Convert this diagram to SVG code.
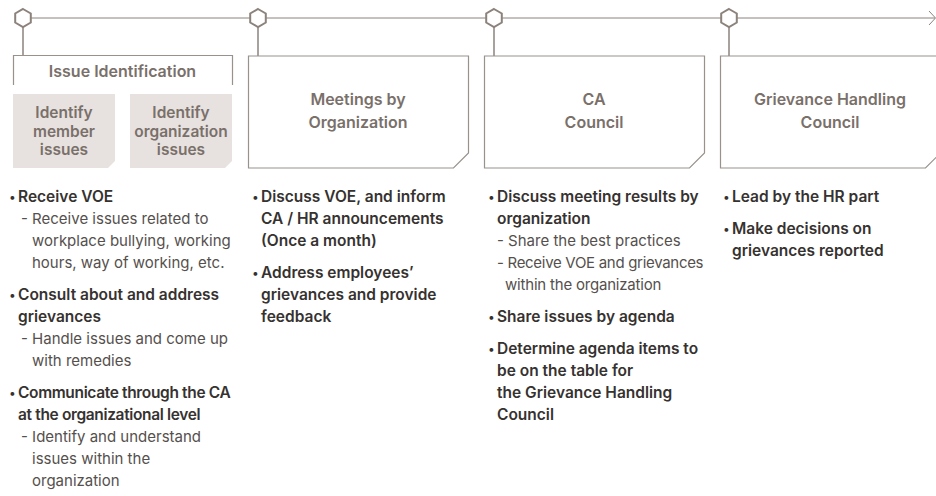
<svg xmlns="http://www.w3.org/2000/svg" width="936" height="496" viewBox="0 0 936 496">
<defs>
<style>
.ln{stroke:#8c827c;stroke-width:1;fill:none}
.stub{stroke:#8c827c;stroke-width:1.5;fill:none}
.hex{stroke:#8c827c;stroke-width:2;fill:#fff}
.box{stroke:#9a918b;stroke-width:1.2;fill:#fff}
.gbox{fill:#e7e2e0;stroke:none}
.ttl{font-family:Inter,"Noto Sans",sans-serif;font-size:16px;font-weight:600;fill:#7a706a;text-anchor:middle}
.gt{font-family:Inter,"Noto Sans",sans-serif;font-size:15.5px;font-weight:600;fill:#7a706a;text-anchor:middle}
.b{font-family:Inter,"Noto Sans",sans-serif;font-size:15.5px;font-weight:600;fill:#363230}
.s{font-family:Inter,"Noto Sans",sans-serif;font-size:15px;font-weight:400;fill:#55504d}
.dot{font-family:Inter,"Noto Sans",sans-serif;font-size:12px;font-weight:400;fill:#363230}
</style>
<polygon id="hx" points="0,-9 7.8,-4.5 7.8,4.5 0,9 -7.8,4.5 -7.8,-4.5"/>
</defs>
<rect width="936" height="496" fill="#fff"/>
<g id="connectors">
<line class="ln" x1="23" y1="18" x2="935" y2="18"/>
<polyline class="ln" points="929,11 935.5,18 929,25"/>
<line class="stub" x1="23" y1="27" x2="23" y2="55.5"/>
<line class="stub" x1="258" y1="27" x2="258" y2="56"/>
<line class="stub" x1="494" y1="27" x2="494" y2="56"/>
<line class="stub" x1="729" y1="27" x2="729" y2="56"/>
<use href="#hx" class="hex" x="23" y="18"/>
<use href="#hx" class="hex" x="258" y="18"/>
<use href="#hx" class="hex" x="494" y="18"/>
<use href="#hx" class="hex" x="729" y="18"/>
</g>
<g id="node-issue-identification">
<path class="ln" d="M13.5,85 V55.5 H232.5 V85" style="stroke:#9a918b;stroke-width:1.2"/>
<text class="ttl" x="122.5" y="77">Issue Identification</text>
</g>
<g id="node-identify-member">
<path class="gbox" d="M13,94 H115 V161 L108,168 H13 Z"/>
<text class="gt" x="64" y="118">Identify</text>
<text class="gt" x="64" y="136.5">member</text>
<text class="gt" x="64" y="155">issues</text>
</g>
<g id="node-identify-organization">
<path class="gbox" d="M130,94 H232 V161 L225,168 H130 Z"/>
<text class="gt" x="181" y="118">Identify</text>
<text class="gt" x="181" y="136.5">organization</text>
<text class="gt" x="181" y="155">issues</text>
</g>
<g id="node-meetings">
<path class="box" d="M248.5,56 H468.5 V153 L453.5,168 H248.5 Z"/>
<text class="ttl" x="358" y="105">Meetings by</text>
<text class="ttl" x="358" y="128">Organization</text>
</g>
<g id="node-ca-council">
<path class="box" d="M484.5,56 H704.5 V153 L689.5,168 H484.5 Z"/>
<text class="ttl" x="594" y="105">CA</text>
<text class="ttl" x="594" y="128">Council</text>
</g>
<g id="node-grievance-council">
<path class="box" d="M720.5,56 H940.5 V153 L925.5,168 H720.5 Z"/>
<text class="ttl" x="830" y="105">Grievance Handling</text>
<text class="ttl" x="830" y="128">Council</text>
</g>
<g id="col1-text">
<text class="dot" x="9" y="201">•</text>
<text class="b" x="18" y="202">Receive VOE</text>
<text class="s" x="21" y="224">- Receive issues related to</text>
<text class="s" x="32" y="246">workplace bullying, working</text>
<text class="s" x="32" y="268">hours, way of working, etc.</text>
<text class="dot" x="9" y="299">•</text>
<text class="b" x="18" y="300">Consult about and address</text>
<text class="b" x="18" y="322">grievances</text>
<text class="s" x="21" y="344">- Handle issues and come up</text>
<text class="s" x="32" y="366">with remedies</text>
<text class="dot" x="9" y="397">•</text>
<text class="b" x="18" y="398" letter-spacing="-0.35">Communicate through the CA</text>
<text class="b" x="18" y="420" letter-spacing="-0.35">at the organizational level</text>
<text class="s" x="21" y="442">- Identify and understand</text>
<text class="s" x="32" y="464">issues within the</text>
<text class="s" x="32" y="486">organization</text>
</g>
<g id="col2-text">
<text class="dot" x="252" y="201">•</text>
<text class="b" x="261" y="202">Discuss VOE, and inform</text>
<text class="b" x="261" y="224">CA / HR announcements</text>
<text class="b" x="261" y="246">(Once a month)</text>
<text class="dot" x="252" y="277">•</text>
<text class="b" x="261" y="278">Address employees’</text>
<text class="b" x="261" y="300">grievances and provide</text>
<text class="b" x="261" y="322">feedback</text>
</g>
<g id="col3-text">
<text class="dot" x="488" y="201">•</text>
<text class="b" x="497" y="202">Discuss meeting results by</text>
<text class="b" x="497" y="224">organization</text>
<text class="s" x="497" y="246">- Share the best practices</text>
<text class="s" x="497" y="268" letter-spacing="-0.3">- Receive VOE and grievances</text>
<text class="s" x="505" y="290" letter-spacing="-0.2">within the organization</text>
<text class="dot" x="488" y="321">•</text>
<text class="b" x="497" y="322">Share issues by agenda</text>
<text class="dot" x="488" y="353">•</text>
<text class="b" x="497" y="354">Determine agenda items to</text>
<text class="b" x="497" y="376">be on the table for</text>
<text class="b" x="497" y="398">the Grievance Handling</text>
<text class="b" x="497" y="420">Council</text>
</g>
<g id="col4-text">
<text class="dot" x="723" y="201">•</text>
<text class="b" x="732" y="202">Lead by the HR part</text>
<text class="dot" x="723" y="233">•</text>
<text class="b" x="732" y="234">Make decisions on</text>
<text class="b" x="732" y="256">grievances reported</text>
</g>
</svg>
